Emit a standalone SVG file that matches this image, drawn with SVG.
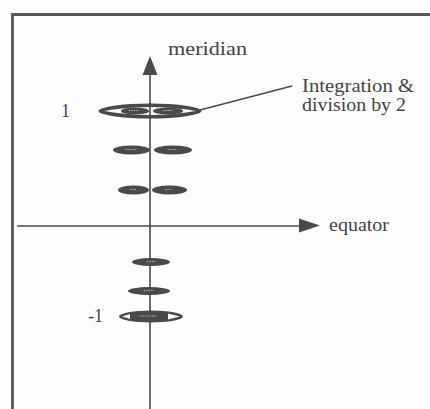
<svg xmlns="http://www.w3.org/2000/svg" width="430" height="409" viewBox="0 0 430 409">
<style>
.frame{fill:none;stroke:#585858;stroke-width:2.8}
.ax{fill:none;stroke:#4a4a4a;stroke-width:1.6}
.head{fill:#4a4a4a}
.dk{fill:#4a4a4a}
.wh{fill:#fafafa}
.dot{stroke:#e0e0e0;stroke-width:0.8;stroke-dasharray:1.2 1.2;fill:none}
.lbl{font-family:"Liberation Serif","DejaVu Serif",serif;font-size:18px;fill:#444444}
</style>
<rect width="430" height="409" fill="#fdfdfd"/>
<path class="frame" d="M12.5,409 V14.5 H430"/>
<g id="connectors">
  <line class="ax" x1="150" y1="72" x2="150" y2="409"/>
  <polygon class="head" points="150,56 157.5,75 142.5,75"/>
  <line class="ax" x1="17" y1="226" x2="302" y2="226"/>
  <polygon class="head" points="320,225.5 299,218.5 299,232.5"/>
  <line class="ax" x1="200" y1="110" x2="292" y2="86"/>
</g>
<g id="node-top">
  <ellipse class="dk" cx="150" cy="111" rx="51.5" ry="7.5"/>
  <path class="wh" d="M104,111 Q150,103 196,111 Q150,119 104,111 Z"/>
  <ellipse class="dk" cx="135" cy="111" rx="14" ry="3.6"/>
  <ellipse class="dk" cx="168" cy="111" rx="15" ry="3.6"/>
  <line class="dot" x1="129" y1="110.5" x2="139" y2="110.5"/>
  <line class="dot" x1="163" y1="110.5" x2="173" y2="110.5"/>
  <line class="ax" x1="150" y1="103" x2="150" y2="119"/>
</g>
<g id="node-row2">
  <ellipse class="dk" cx="131.5" cy="150" rx="18.5" ry="4.5"/>
  <ellipse class="dk" cx="173" cy="150" rx="19" ry="4.5"/>
  <line class="dot" x1="125" y1="149.5" x2="137" y2="149.5"/>
  <line class="dot" x1="168" y1="149.5" x2="176" y2="149.5"/>
</g>
<g id="node-row3">
  <ellipse class="dk" cx="133.5" cy="190" rx="15.5" ry="4.5"/>
  <ellipse class="dk" cx="169.5" cy="190" rx="17.5" ry="4.5"/>
  <line class="dot" x1="130" y1="189.5" x2="137" y2="189.5"/>
  <line class="dot" x1="165" y1="189.5" x2="172" y2="189.5"/>
</g>
<g id="node-low1">
  <ellipse class="dk" cx="151" cy="262" rx="19" ry="4"/>
  <line class="dot" x1="147" y1="261.5" x2="155" y2="261.5"/>
</g>
<g id="node-low2">
  <ellipse class="dk" cx="149" cy="291" rx="21" ry="4"/>
  <line class="dot" x1="144" y1="290.5" x2="154" y2="290.5"/>
</g>
<g id="node-bottom">
  <ellipse class="dk" cx="151" cy="316.5" rx="32" ry="6"/>
  <polygon class="wh" points="122,316.5 130,314 130,319"/>
  <polygon class="wh" points="180,316.5 168,313.5 168,319.5"/>
  <line class="dot" x1="140" y1="316" x2="156" y2="316"/>
</g>
<g id="label-meridian"><text class="lbl" x="168" y="55" textLength="79" lengthAdjust="spacingAndGlyphs">meridian</text></g>
<g id="label-equator"><text class="lbl" x="329" y="231" textLength="60" lengthAdjust="spacingAndGlyphs">equator</text></g>
<g id="label-one"><text class="lbl" x="61" y="117">1</text></g>
<g id="label-minus-one"><text class="lbl" x="88" y="322">-1</text></g>
<g id="label-integration">
  <text class="lbl" x="302" y="92" textLength="112" lengthAdjust="spacingAndGlyphs">Integration &amp;</text>
  <text class="lbl" x="302" y="111" textLength="104" lengthAdjust="spacingAndGlyphs">division by 2</text>
</g>
</svg>
